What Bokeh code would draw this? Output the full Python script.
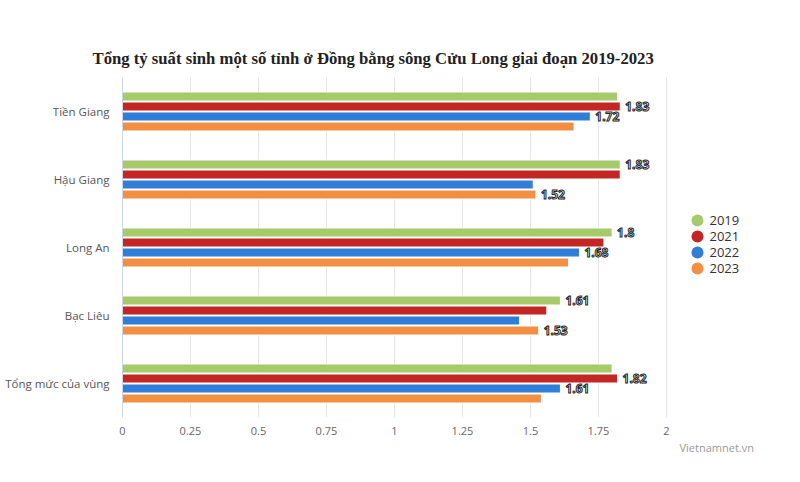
import numpy as np
from bokeh.plotting import figure
from bokeh.models import (ColumnDataSource, FactorRange, Range1d, FixedTicker,
                          Title)
from bokeh.transform import dodge
from bokeh.core.properties import value
from bokeh.embed import file_html
from bokeh.resources import INLINE

# ---------------- data ----------------
title_text = "Tổng tỷ suất sinh một số tỉnh ở Đồng bằng sông Cửu Long giai đoạn 2019-2023"
categories = ["Tiền Giang", "Hậu Giang", "Long An", "Bạc Liêu", "Tổng mức của vùng"]
years = ["2019", "2021", "2022", "2023"]
v2019 = [1.82, 1.83, 1.80, 1.61, 1.80]
v2021 = [1.83, 1.83, 1.77, 1.56, 1.82]
v2022 = [1.72, 1.51, 1.68, 1.46, 1.61]
v2023 = [1.66, 1.52, 1.64, 1.53, 1.54]
# which bars show a data label in the original chart
show2019 = [False, True, True, True, False]
show2021 = [True, False, False, False, True]
show2022 = [True, False, True, False, True]
show2023 = [False, True, False, True, False]
x_ticks = [0, 0.25, 0.5, 0.75, 1, 1.25, 1.5, 1.75, 2]
x_tick_labels = ["0", "0.25", "0.5", "0.75", "1", "1.25", "1.5", "1.75", "2"]
credit_text = "Vietnamnet.vn"

colors = ["#a6c96a", "#c42525", "#2f7ed8", "#f28f43"]
series = [v2019, v2021, v2022, v2023]
shows = [show2019, show2021, show2022, show2023]

# ---------------- layout (page pixels, figure drawn at page origin) ----------------
W, H = 792, 474
FL, FR, FT, FB = 122, 2, 77, 57
FW = W - FL - FR          # frame width in px
FH = H - FT - FB          # frame height in px
PXU = 272.0               # px per x unit
NCAT = len(categories)
GROUP = FH / NCAT         # px per category

def ypix(img_y):
    return NCAT - (img_y - FT) / GROUP

def xpix(img_x):
    return (img_x - FL) / PXU

p = figure(width=W, height=H, output_backend="svg", toolbar_location=None,
           x_range=Range1d(0, FW / PXU),
           y_range=FactorRange(factors=categories[::-1]), tools="")
p.min_border_left = FL
p.min_border_right = FR
p.min_border_top = FT
p.min_border_bottom = FB
p.outline_line_color = None
p.background_fill_color = "white"
p.border_fill_color = "white"

# title
p.title.text = title_text
p.title.align = "left"
p.title.offset = 92 - FL
p.title.standoff = 20
p.title.text_font = "Liberation Serif"
p.title.text_font_size = "16.7px"
p.title.text_font_style = "bold"
p.title.text_color = "#222222"

# grid
p.ygrid.grid_line_color = None
p.xgrid.ticker = FixedTicker(ticks=x_ticks)
p.xgrid.grid_line_color = "#e6e6e6"
p.xgrid.grid_line_width = 1

# x axis
ax = p.xaxis[0]
ax.ticker = FixedTicker(ticks=x_ticks)
ax.major_label_overrides = {t: l for t, l in zip(x_ticks, x_tick_labels)}
ax.axis_line_color = None
ax.major_tick_line_color = None
ax.minor_tick_line_color = None
ax.major_tick_in = 0
ax.major_tick_out = 0
ax.major_label_standoff = 9
ax.major_label_text_font = "Open Sans"
ax.major_label_text_font_size = "11px"
ax.major_label_text_color = "#666666"

# y axis (categories)
ay = p.yaxis[0]
ay.axis_line_color = "#ccd6eb"
ay.axis_line_width = 1
ay.major_tick_line_color = None
ay.minor_tick_line_color = None
ay.major_tick_in = 0
ay.major_tick_out = 0
ay.major_label_standoff = 13
ay.major_label_text_font = "Open Sans"
ay.major_label_text_font_size = "11.5px"
ay.major_label_text_color = "#555555"

# credit below the axis
credit = Title(text=credit_text, align="left", offset=679 - FL, standoff=0,
               text_font="Open Sans", text_font_size="11px",
               text_font_style="normal", text_color="#999999")
p.add_layout(credit, "below")

# bars
offsets_px = [15, 5, -5, -15]
bar_h = 9 / GROUP
for vals, col, off, show in zip(series, colors, offsets_px, shows):
    src = ColumnDataSource(dict(cat=categories, val=vals))
    p.hbar(y=dodge("cat", off / GROUP, range=p.y_range), left=0, right="val",
           height=bar_h, source=src, fill_color=col, line_color="white", line_width=1)
    lc = [c for c, s in zip(categories, show) if s]
    lv = [v for v, s in zip(vals, show) if s]
    lsrc = ColumnDataSource(dict(cat=lc, val=lv, txt=[f"{v:g}" for v in lv]))
    p.text(x="val", y=dodge("cat", off / GROUP, range=p.y_range), text="txt",
           source=lsrc, x_offset=5, text_align="left", text_baseline="middle",
           text_font=value("Open Sans"), text_font_size="12px", text_font_style="bold",
           text_color="white", text_outline_color="#222222")

# legend (manual, circle markers)
leg_y = [ypix(220 + 16 * i) for i in range(len(years))]
p.scatter(x=[xpix(697)] * len(years), y=leg_y, size=12, fill_color=colors,
          line_color=None, marker="circle")
p.text(x=[xpix(709)] * len(years), y=leg_y, text=years, text_align="left",
       text_baseline="middle", text_font=value("Open Sans"), text_font_size="13px",
       text_color="#333333")

open("out.html", "w").write(file_html(p, INLINE))
